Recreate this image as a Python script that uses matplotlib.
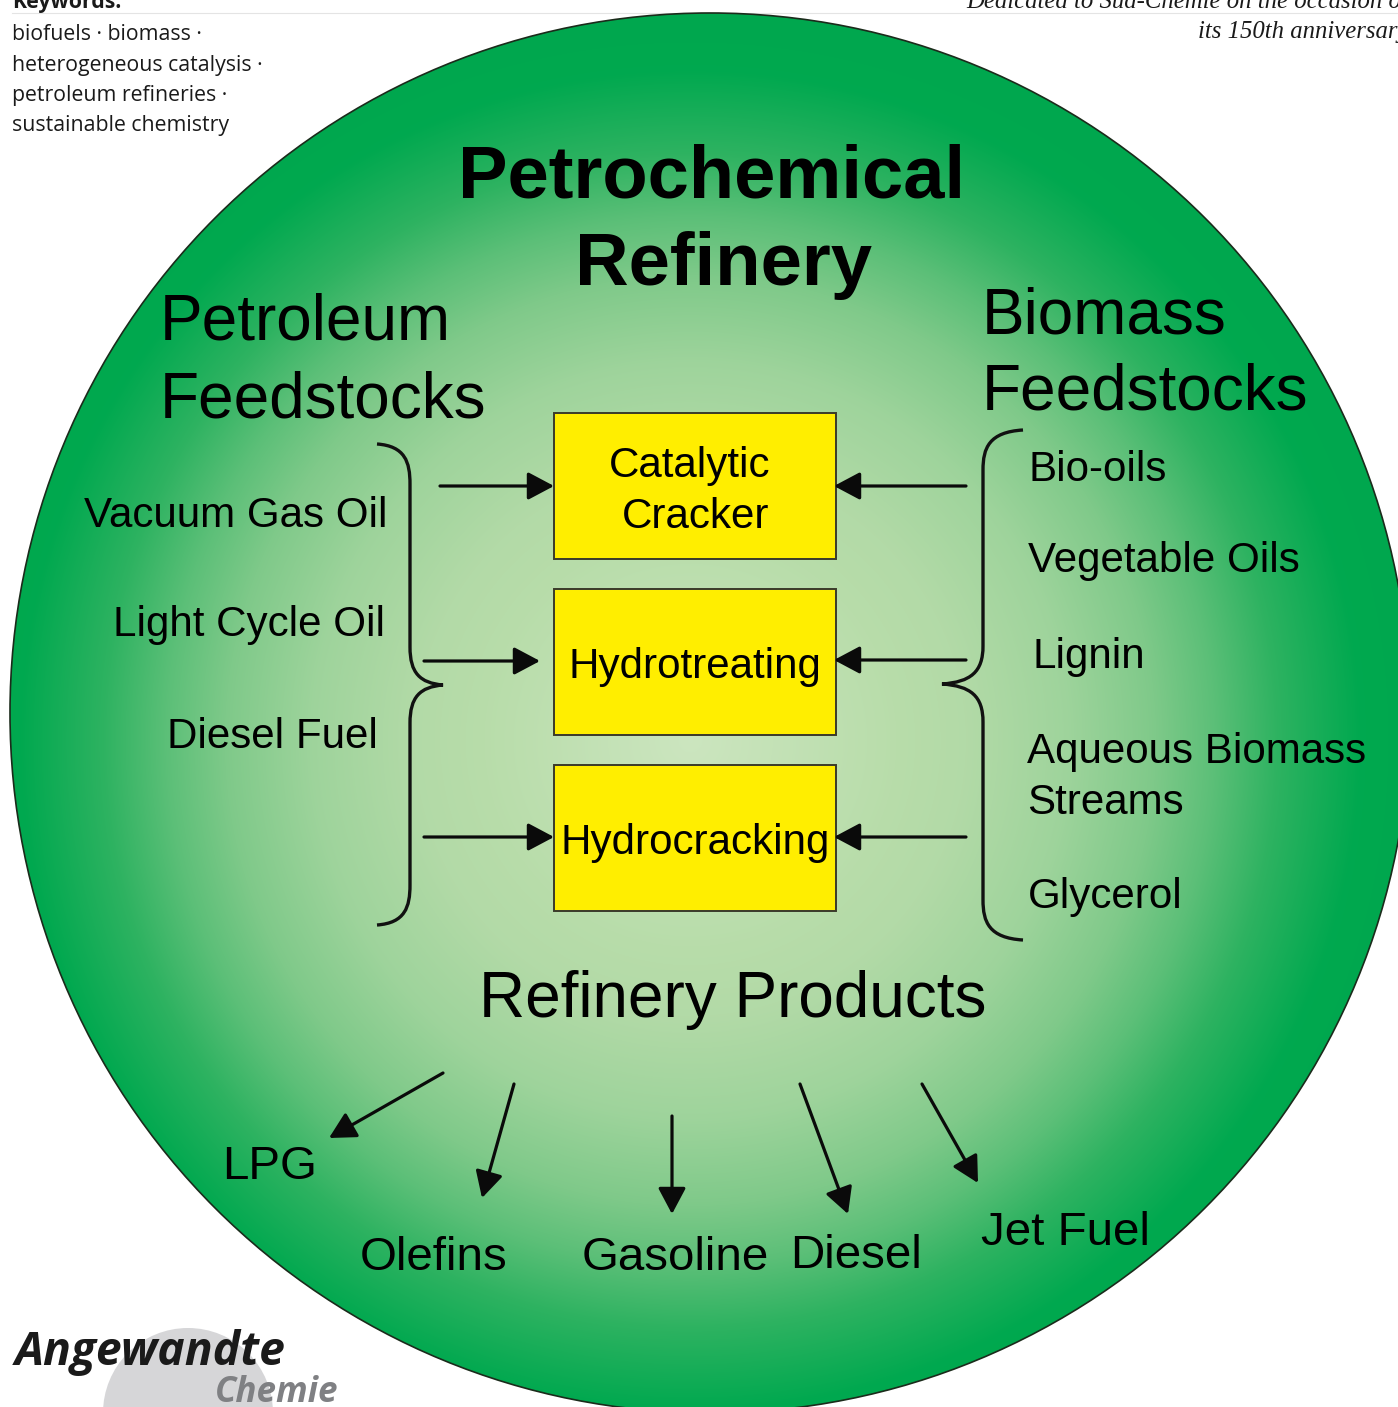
import matplotlib
matplotlib.use('Agg')
import matplotlib.pyplot as plt
import numpy as np
from matplotlib.patches import Circle, Rectangle, FancyArrowPatch, PathPatch
from matplotlib.path import Path

W, H = 1398, 1407
FONT = 'Liberation Sans'

# text content
title_lines = ['Petrochemical', 'Refinery']
petro_head = ['Petroleum', 'Feedstocks']
bio_head = ['Biomass', 'Feedstocks']
petro_feeds = ['Vacuum Gas Oil', 'Light Cycle Oil', 'Diesel Fuel']
bio_feeds = ['Bio-oils', 'Vegetable Oils', 'Lignin', 'Aqueous Biomass\nStreams', 'Glycerol']
processes = ['Catalytic\nCracker', 'Hydrotreating', 'Hydrocracking']
products_head = 'Refinery Products'
products = ['LPG', 'Olefins', 'Gasoline', 'Diesel', 'Jet Fuel']
keywords = ['biofuels · biomass ·', 'heterogeneous catalysis ·',
            'petroleum refineries ·', 'sustainable chemistry']
dedication = ['Dedicated to Süd-Chemie on the occasion of', 'its 150th anniversary']


def brace(ax, x_end, x_mid, x_tip, y_top, y_tip, y_bot):
    '''curly brace, opening side at x_end, point at x_tip'''
    verts = [(x_end, y_top),
             (x_mid - 0.15 * (x_mid - x_end), y_top + 2), (x_mid, y_top + 18), (x_mid, y_top + 40),
             (x_mid, y_tip - 38),
             (x_mid, y_tip - 12), (x_tip - 0.7 * (x_tip - x_mid), y_tip - 2), (x_tip, y_tip),
             (x_tip - 0.7 * (x_tip - x_mid), y_tip + 2), (x_mid, y_tip + 12), (x_mid, y_tip + 38),
             (x_mid, y_bot - 40),
             (x_mid, y_bot - 18), (x_mid - 0.15 * (x_mid - x_end), y_bot - 2), (x_end, y_bot)]
    codes = [Path.MOVETO,
             Path.CURVE4, Path.CURVE4, Path.CURVE4,
             Path.LINETO,
             Path.CURVE4, Path.CURVE4, Path.CURVE4,
             Path.CURVE4, Path.CURVE4, Path.CURVE4,
             Path.LINETO,
             Path.CURVE4, Path.CURVE4, Path.CURVE4]
    ax.add_patch(PathPatch(Path(verts, codes), fill=False, lw=2.4,
                           edgecolor='#111111', zorder=4))


def arrow(ax, start, end):
    ax.add_patch(FancyArrowPatch(start, end,
                                 arrowstyle='-|>,head_length=16,head_width=8.5',
                                 mutation_scale=1, lw=2.3, color='#0a0a0a',
                                 shrinkA=0, shrinkB=0, zorder=5))


fig = plt.figure(figsize=(W / 100, H / 100), dpi=100)
ax = fig.add_axes([0, 0, 1, 1])
ax.set_xlim(0, W)
ax.set_ylim(H, 0)
ax.axis('off')

# faint header rule
ax.plot([12, W], [13, 13], color='#e4e4e4', lw=0.8, zorder=0)

# radial gradient disc
cx, cy, r = 710, 713, 700
gx, gy = 690, 740
yy, xx = np.mgrid[0:H, 0:W]
d = np.hypot(xx - gx, yy - gy)
stops_d = [0, 210, 275, 378, 463, 524, 587, 671, 900]
stops_rgb = [(0.80, 0.90, 0.75), (0.72, 0.865, 0.665), (0.70, 0.855, 0.655),
             (0.62, 0.83, 0.61), (0.50, 0.79, 0.54), (0.36, 0.75, 0.47),
             (0.18, 0.70, 0.38), (0.0, 0.66, 0.31), (0.0, 0.65, 0.30)]
img = np.dstack([np.interp(d, stops_d, [c[i] for c in stops_rgb]) for i in range(3)])
disc = Circle((cx, cy), r, facecolor='none', edgecolor='#1b2b1b', lw=1.2, zorder=2)
im = ax.imshow(img, extent=(0, W, H, 0), origin='upper', zorder=1, interpolation='bilinear')
ax.add_patch(disc)
im.set_clip_path(disc)
ax.set_xlim(0, W)
ax.set_ylim(H, 0)

# titles
ax.text(712, 197, title_lines[0], fontsize=53.5, fontweight='bold', family=FONT,
        ha='center', va='baseline', zorder=6)
ax.text(724, 285, title_lines[1], fontsize=53.5, fontweight='bold', family=FONT,
        ha='center', va='baseline', zorder=6)
for txt, yb in zip(petro_head, [340, 417]):
    ax.text(160, yb, txt, fontsize=46, family=FONT, ha='left', va='baseline', zorder=6)
for txt, yb in zip(bio_head, [334, 410]):
    ax.text(982, yb, txt, fontsize=46, family=FONT, ha='left', va='baseline', zorder=6)

# feedstock lists
for txt, xr, yb in zip(petro_feeds, [387, 385, 378], [527, 636, 748]):
    ax.text(xr, yb, txt, fontsize=30.3, family=FONT, ha='right', va='baseline', zorder=6)
bio_x = [1028, 1028, 1033, 1027, 1028]
bio_y = [481, 572, 668, 763, 908]
for txt, xl, yb in zip(bio_feeds, bio_x, bio_y):
    for k, line in enumerate(txt.split('\n')):
        ax.text(xl, yb + 51 * k, line, fontsize=30.3, family=FONT, ha='left',
                va='baseline', zorder=6)

brace(ax, 377, 410, 443, 444, 685, 925)
brace(ax, 1023, 983, 942, 430, 684, 940)

# process boxes
box_top = [413, 589, 765]
for name, top in zip(processes, box_top):
    ax.add_patch(Rectangle((554, top), 282, 146, facecolor='#ffee00',
                           edgecolor='#3a3a2a', lw=1.4, zorder=3))
    lines = name.split('\n')
    if len(lines) == 2:
        ax.text(690, top + 64, lines[0], fontsize=30.3, family=FONT, ha='center',
                va='baseline', zorder=6)
        ax.text(696, top + 115, lines[1], fontsize=30.3, family=FONT, ha='center',
                va='baseline', zorder=6)
    else:
        ax.text(695, top + 89, name, fontsize=30.3, family=FONT, ha='center',
                va='baseline', zorder=6)

# feed arrows
for (x0, x1), yy_ in zip([(440, 554), (424, 540), (424, 554)], [486, 661, 837]):
    arrow(ax, (x0, yy_), (x1, yy_))
for yy_ in [486, 660, 837]:
    arrow(ax, (966, yy_), (834, yy_))

# products
ax.text(733, 1017, products_head, fontsize=46, family=FONT, ha='center',
        va='baseline', zorder=6)
prod_x = [222, 360, 582, 790, 981]
prod_y = [1179, 1270, 1270, 1268, 1245]
for txt, xl, yb in zip(products, prod_x, prod_y):
    ax.text(xl, yb, txt, fontsize=34.2, family=FONT, ha='left', va='baseline', zorder=6)
prod_arrows = [((443, 1073), (329, 1138)), ((514, 1084), (482, 1198)),
               ((672, 1116), (672, 1214)), ((800, 1084), (848, 1214)),
               ((922, 1084), (978, 1183))]
for a, b in prod_arrows:
    arrow(ax, a, b)

# keywords block
ax.text(12, 8, 'Keywords:', fontsize=15.3, fontweight='bold', family='Open Sans',
        ha='left', va='baseline', color='#1a1a1a')
for i, kw in enumerate(keywords):
    ax.text(12, 40 + 30.5 * i, kw, fontsize=15.3, family='Open Sans', ha='left',
            va='baseline', color='#1a1a1a')

# dedication
for txt, yb in zip(dedication, [8, 38]):
    ax.text(1408, yb, txt, fontsize=17.8, family='Liberation Serif', style='italic',
            ha='right', va='baseline', color='#1a1a1a')

# journal logo
ax.add_patch(Circle((188, 1413), 85, facecolor='#d6d6d8', edgecolor='none', zorder=1))
ax.text(15, 1365, 'Angewandte', fontsize=33.3, fontweight='bold', style='italic',
        family='Open Sans', ha='left', va='baseline', color='#1a1a1a', zorder=3)
ax.text(215, 1402, 'Chemie', fontsize=25.2, fontweight='bold', style='italic',
        family='Open Sans', ha='left', va='baseline', color='#7f8083', zorder=3)

fig.savefig('out.png', dpi=100)
